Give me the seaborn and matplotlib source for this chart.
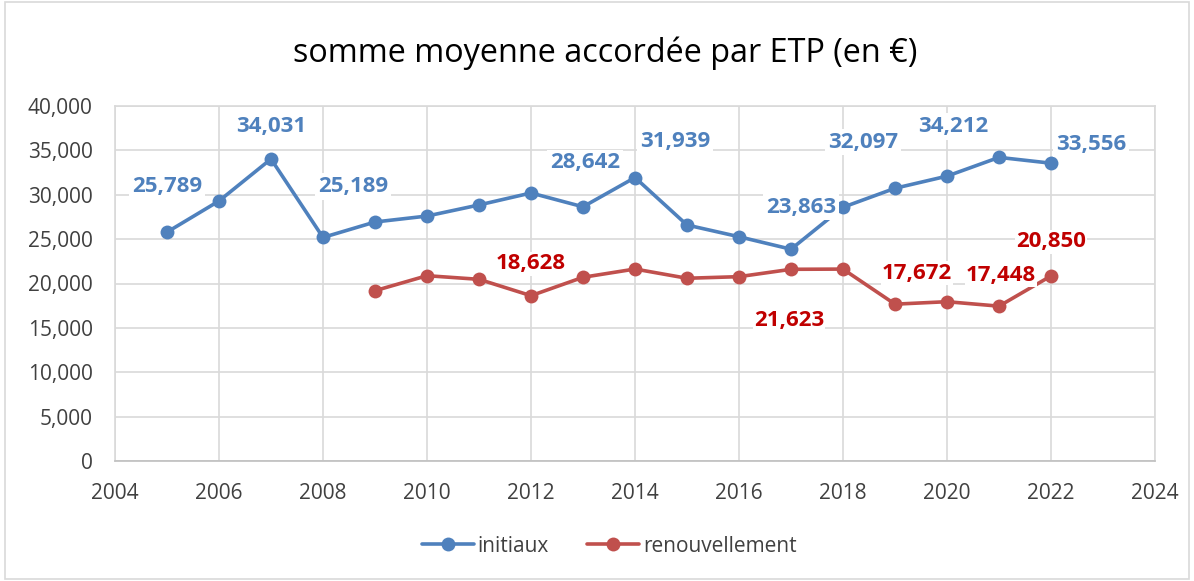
import numpy as np
import pandas as pd
import matplotlib
matplotlib.use("Agg")
import matplotlib.pyplot as plt
import seaborn as sns
from matplotlib.ticker import FuncFormatter, MultipleLocator

years_init = [2005, 2006, 2007, 2008, 2009, 2010, 2011, 2012, 2013, 2014, 2015, 2016, 2017, 2018, 2019, 2020, 2021, 2022]
vals_init = [25789, 29300, 34031, 25189, 26930, 27600, 28850, 30200, 28642, 31939, 26590, 25270, 23863, 28590, 30730, 32097, 34212, 33556]
years_ren = [2009, 2010, 2011, 2012, 2013, 2014, 2015, 2016, 2017, 2018, 2019, 2020, 2021, 2022]
vals_ren = [19190, 20880, 20470, 18628, 20700, 21630, 20590, 20770, 21600, 21623, 17672, 17950, 17448, 20850]

series_names = ["initiaux", "renouvellement"]
title = "somme moyenne accordée par ETP (en €)"

# labelled points: (year, offset px x, offset px y)
labels_init = [(2005, 0, 46), (2007, 0, 32), (2008, 30, 51), (2013, 2, 44), (2014, 40, 36),
               (2017, 10, 42), (2020, -84, 34), (2021, -46, 31), (2022, 40, 19)]
labels_ren = [(2012, 0, 32), (2018, -54, -51), (2019, 22, 31), (2021, 2, 31), (2022, 0, 34)]

df = pd.concat([
    pd.DataFrame({"year": years_init, "value": vals_init, "serie": series_names[0]}),
    pd.DataFrame({"year": years_ren, "value": vals_ren, "serie": series_names[1]}),
])

sns.set_theme(style="white")
plt.rcParams['font.family'] = ['Open Sans', 'DejaVu Sans']

blue = "#4F81BD"
red_line = "#C0504D"
red_txt = "#C00000"

fig = plt.figure(figsize=(11.94, 5.81), dpi=100)
ax = fig.add_axes([115/1194, 1-461/581, (1155-115)/1194, (461-106)/581])

sns.lineplot(data=df, x="year", y="value", hue="serie", palette=[blue, red_line],
             marker="o", markersize=10, markeredgewidth=0, linewidth=2.6, ax=ax,
             legend=True, sort=True)

ax.set_xlim(2004, 2024)
ax.set_ylim(0, 40000)
ax.xaxis.set_major_locator(MultipleLocator(2))
ax.yaxis.set_major_locator(MultipleLocator(5000))
ax.yaxis.set_major_formatter(FuncFormatter(lambda v, p: f"{int(v):,}"))
ax.grid(True, color="#d9d9d9", linewidth=1.2)
ax.set_axisbelow(True)
for s in ["top", "right", "left"]:
    ax.spines[s].set_color("#d9d9d9")
    ax.spines[s].set_linewidth(1.2)
ax.spines["bottom"].set_color("#bfbfbf")
ax.spines["bottom"].set_linewidth(1.2)
ax.set_xlabel("")
ax.set_ylabel("")
ax.tick_params(axis="both", labelsize=15, colors="#404040", length=0)
ax.tick_params(axis="y", pad=16)
ax.tick_params(axis="x", pad=15.5)

d_init = dict(zip(years_init, vals_init))
d_ren = dict(zip(years_ren, vals_ren))
for yr, dx, dy in labels_init:
    v = d_init[yr]
    ax.annotate(f"{v:,}", (yr, v), xytext=(dx, dy), textcoords="offset pixels",
                ha="center", va="center", fontsize=16, fontweight="bold", color=blue,
                bbox=dict(facecolor="white", edgecolor="none", pad=2))
for yr, dx, dy in labels_ren:
    v = d_ren[yr]
    ax.annotate(f"{v:,}", (yr, v), xytext=(dx, dy), textcoords="offset pixels",
                ha="center", va="center", fontsize=16, fontweight="bold", color=red_txt,
                bbox=dict(facecolor="white", edgecolor="none", pad=1))

leg = ax.legend(loc="center", bbox_to_anchor=(0.475, -0.24), ncol=2, frameon=False,
                fontsize=15, handlelength=2.5, columnspacing=1.8, handletextpad=0.2)
for t in leg.get_texts():
    t.set_color("#404040")

fig.text(605/1194, 1-53/581, title, ha="center", va="center", fontsize=23.3, color="#000000")

fig.patches.append(plt.Rectangle((0.004, 0.004), 0.992, 0.992, transform=fig.transFigure,
                                 fill=False, edgecolor="#d9d9d9", linewidth=1.2))

fig.savefig("out.png", dpi=100)
